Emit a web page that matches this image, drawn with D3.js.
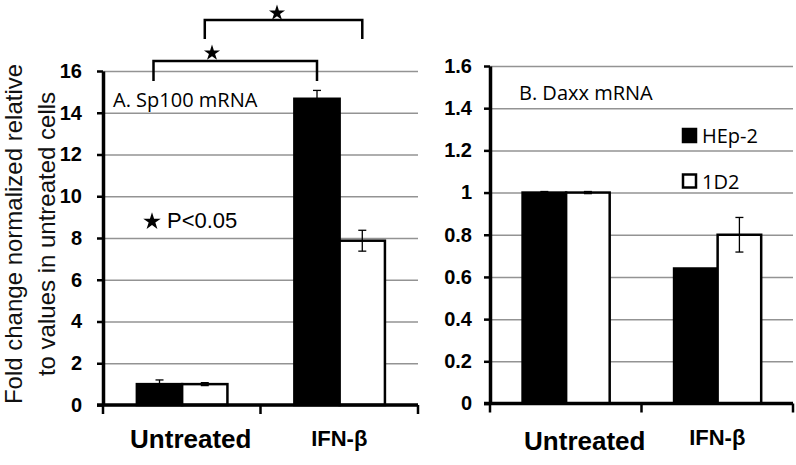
<!DOCTYPE html>
<html>
<head>
<meta charset="utf-8">
<script src="https://cdn.jsdelivr.net/npm/d3@7"></script>
<style>
  body { margin: 0; background: #fff; }
  svg { display: block; }
  .tick text { font-family: "Liberation Sans", Arial, sans-serif; font-weight: bold; font-size: 20px; fill: #000; }
</style>
</head>
<body>
<svg id="chart" width="796" height="465"></svg>
<script>
const categories = ["Untreated", "IFN-β"];
const series = ["HEp-2", "1D2"];
const seriesFill = ["#000", "#fff"];

// A. Sp100 mRNA
const sp100Hep2 = [1.0, 14.67];
const sp100Hep2Err = [0.2, 0.4];
const sp100OneD2 = [1.0, 7.87];
const sp100OneD2Err = [0.07, 0.5];
const sp100Ticks = [0, 2, 4, 6, 8, 10, 12, 14, 16];

// B. Daxx mRNA
const daxxHep2 = [1.0, 0.64];
const daxxHep2Err = [0.005, 0];
const daxxOneD2 = [1.0, 0.80];
const daxxOneD2Err = [0.005, 0.082];
const daxxTicks = [0, 0.2, 0.4, 0.6, 0.8, 1, 1.2, 1.4, 1.6];

const svg = d3.select("#chart");

function drawPanel(opt) {
  const x = d3.scaleBand().domain(categories).range(opt.xRange);
  const y = d3.scaleLinear().domain([0, d3.max(opt.ticks)]).range(opt.yRange);
  const inner = d3.scaleBand().domain(series)
    .range([x.bandwidth() * 0.215, x.bandwidth() * 0.79]);
  const width = opt.xRange[1] - opt.xRange[0];

  // gridlines
  svg.append("g")
    .attr("transform", `translate(${opt.xRange[0]},0)`)
    .call(d3.axisLeft(y).tickValues(opt.ticks).tickSize(-width).tickFormat(""))
    .call(g => g.select(".domain").remove())
    .selectAll("line")
    .attr("stroke", "#939393")
    .attr("stroke-width", 1.5);

  const rows = [];
  categories.forEach((c, i) => {
    series.forEach((s, j) => {
      rows.push({ cat: c, s: s, j: j, v: opt.values[j][i], e: opt.errors[j][i] });
    });
  });

  // bars
  svg.append("g")
    .selectAll("rect")
    .data(rows)
    .enter()
    .append("rect")
    .attr("x", d => x(d.cat) + inner(d.s))
    .attr("y", d => y(d.v))
    .attr("width", inner.bandwidth())
    .attr("height", d => y(0) - y(d.v))
    .attr("fill", d => seriesFill[d.j])
    .attr("stroke", "#000")
    .attr("stroke-width", 2.5);

  // error bars
  const err = svg.append("g")
    .selectAll("g")
    .data(rows.filter(d => d.e > 0))
    .enter()
    .append("g")
    .attr("stroke", "#000")
    .attr("stroke-width", 1.3);
  const cx = d => x(d.cat) + inner(d.s) + inner.bandwidth() / 2;
  err.append("line")
    .attr("x1", cx).attr("x2", cx)
    .attr("y1", d => y(d.v - d.e)).attr("y2", d => y(d.v + d.e));
  err.append("line")
    .attr("x1", d => cx(d) - 4).attr("x2", d => cx(d) + 4)
    .attr("y1", d => y(d.v + d.e)).attr("y2", d => y(d.v + d.e));
  err.append("line")
    .attr("x1", d => cx(d) - 4).attr("x2", d => cx(d) + 4)
    .attr("y1", d => y(d.v - d.e)).attr("y2", d => y(d.v - d.e));

  // y axis
  svg.append("g")
    .attr("transform", `translate(${opt.xRange[0]},0)`)
    .call(d3.axisLeft(y).tickValues(opt.ticks).tickSize(6).tickSizeOuter(0)
      .tickPadding(opt.pad).tickFormat(opt.fmt))
    .call(g => g.select(".domain").attr("stroke-width", 3.5))
    .call(g => g.selectAll(".tick line").attr("stroke-width", 2.5));

  // x axis with ticks at band boundaries
  const xa = svg.append("g");
  xa.append("line")
    .attr("x1", opt.xRange[0] - 6).attr("x2", opt.xRange[1])
    .attr("y1", y(0)).attr("y2", y(0))
    .attr("stroke", "#000").attr("stroke-width", 3.5);
  xa.selectAll(".bt")
    .data(d3.range(categories.length + 1))
    .enter()
    .append("line")
    .attr("x1", i => opt.xRange[0] + i * x.step())
    .attr("x2", i => opt.xRange[0] + i * x.step())
    .attr("y1", y(0)).attr("y2", y(0) + 9)
    .attr("stroke", "#000").attr("stroke-width", 2.5);

  xa.selectAll(".cat")
    .data(categories)
    .enter()
    .append("text")
    .attr("x", (d, i) => x(d) + x.bandwidth() / 2 + opt.catDx[i])
    .attr("y", (d, i) => opt.catY[i])
    .attr("text-anchor", "middle")
    .style("font-family", "'Liberation Sans', Arial, sans-serif")
    .style("font-weight", "bold")
    .style("font-size", (d, i) => i === 0 ? "26px" : "22px")
    .text(d => d);

  svg.append("text")
    .attr("x", opt.titleX).attr("y", opt.titleY)
    .style("font-family", "'Open Sans', sans-serif")
    .style("font-size", "20px")
    .text(opt.title);

  return { x, y, inner };
}

const pa = drawPanel({
  xRange: [103, 418], yRange: [405, 71],
  ticks: sp100Ticks, fmt: d3.format("d"), pad: 15,
  values: [sp100Hep2, sp100OneD2], errors: [sp100Hep2Err, sp100OneD2Err],
  catDx: [9, 0], catY: [448, 446],
  title: "A. Sp100 mRNA", titleX: 113, titleY: 107
});

drawPanel({
  xRange: [490, 793], yRange: [403.5, 66],
  ticks: daxxTicks, fmt: d => String(+d.toFixed(1)), pad: 12,
  values: [daxxHep2, daxxOneD2], errors: [daxxHep2Err, daxxOneD2Err],
  catDx: [19, 0], catY: [450, 445],
  title: "B. Daxx mRNA", titleX: 519, titleY: 100
});

// y axis title
const yTitle = svg.append("text")
  .attr("transform", "translate(0,234) rotate(-90)")
  .attr("text-anchor", "middle")
  .style("font-family", "'Liberation Sans', Arial, sans-serif")
  .style("font-size", "24px")
  .style("fill", "#111");
yTitle.append("tspan").attr("x", 0).attr("y", 22).text("Fold change normalized relative");
yTitle.append("tspan").attr("x", 0).attr("y", 55).text("to values in untreated cells");

// significance brackets (panel A)
const barCenter = (cat, s) => pa.x(cat) + pa.inner(s) + pa.inner.bandwidth() / 2;
const brackets = [
  { from: barCenter("Untreated", "HEp-2") - 6, to: barCenter("IFN-β", "HEp-2"), top: 61, bottom: 81, starX: 212, starY: 53 },
  { from: barCenter("Untreated", "1D2"), to: barCenter("IFN-β", "1D2"), top: 20, bottom: 39, starX: 277, starY: 13 }
];
const star = d3.symbol().type(d3.symbolStar);

brackets.forEach(b => {
  svg.append("path")
    .attr("d", `M${b.from},${b.bottom}V${b.top}H${b.to}V${b.bottom}`)
    .attr("fill", "none")
    .attr("stroke", "#000")
    .attr("stroke-width", 2.5);
  svg.append("path")
    .attr("d", star.size(80)())
    .attr("transform", `translate(${b.starX},${b.starY})`)
    .attr("fill", "#000");
});

// P value note
svg.append("path")
  .attr("d", star.size(95)())
  .attr("transform", "translate(152,221.5)")
  .attr("fill", "#000");
svg.append("text")
  .attr("x", 167).attr("y", 228)
  .style("font-family", "'Liberation Sans', Arial, sans-serif")
  .style("font-size", "22px")
  .text("P<0.05");

// legend (panel B)
const legend = svg.append("g")
  .selectAll("g")
  .data(series)
  .enter()
  .append("g")
  .attr("transform", (d, i) => `translate(682,${128 + i * 45.5})`);
legend.append("rect")
  .attr("x", 1).attr("y", 1)
  .attr("width", 13).attr("height", 13)
  .attr("fill", (d, i) => seriesFill[i])
  .attr("stroke", "#000")
  .attr("stroke-width", 2.5);
legend.append("text")
  .attr("x", 20).attr("y", 15)
  .style("font-family", "'Open Sans', sans-serif")
  .style("font-size", "20px")
  .text(d => d);
</script>
</body>
</html>
